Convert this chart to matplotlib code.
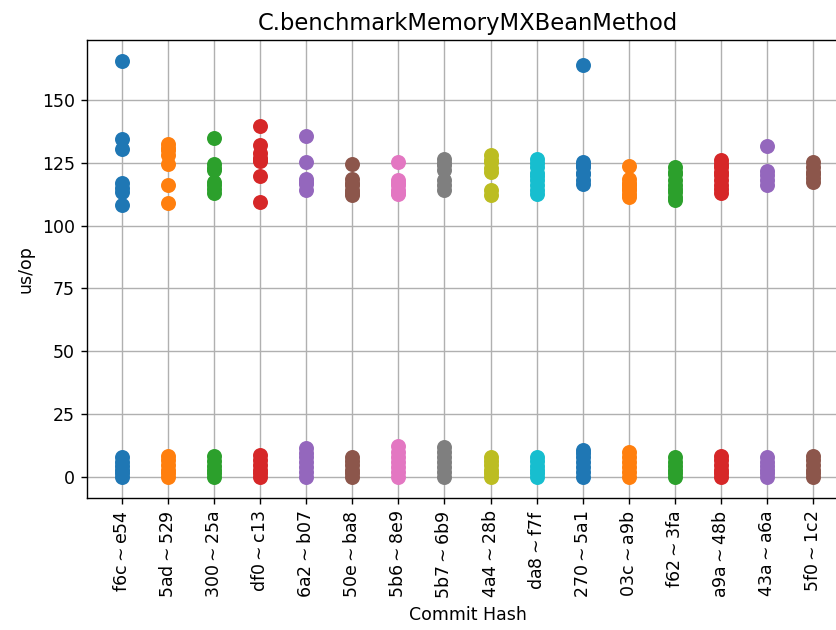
import matplotlib
matplotlib.use("Agg")
import matplotlib.pyplot as plt

commits = ["f6c~e54", "5ad~529", "300~25a", "df0~c13", "6a2~b07", "50e~ba8",
           "5b6~8e9", "5b7~6b9", "4a4~28b", "da8~f7f", "270~5a1", "03c~a9b",
           "f62~3fa", "a9a~48b", "43a~a6a", "5f0~1c2"]

high_values = [
    [165.5, 134.5, 130.5, 117.0, 115.0, 113.5, 108.2],
    [132.5, 131.0, 130.0, 128.0, 124.5, 116.0, 109.0],
    [135.0, 124.5, 123.0, 122.0, 117.3, 116.0, 114.5, 113.0],
    [139.4, 132.0, 129.0, 127.0, 126.0, 125.5, 119.6, 109.3],
    [135.6, 125.2, 118.6, 117.5, 116.6, 114.0],
    [124.4, 118.6, 117.0, 116.0, 114.0, 113.0, 112.2],
    [125.2, 118.0, 117.0, 116.0, 114.0, 113.0, 112.6],
    [126.5, 125.0, 124.0, 122.0, 118.0, 116.0, 114.0],
    [127.9, 126.0, 125.2, 123.0, 121.2, 114.0, 112.0],
    [126.5, 125.0, 123.2, 121.0, 119.9, 118.0, 116.0, 114.0, 112.6],
    [164.0, 125.2, 124.0, 123.2, 121.0, 120.6, 118.0, 116.6],
    [123.6, 118.6, 117.0, 116.0, 115.0, 114.0, 112.5, 111.3],
    [123.2, 121.5, 120.6, 118.0, 116.0, 114.5, 113.3, 111.5, 110.0],
    [125.9, 124.5, 123.2, 121.5, 120.0, 118.0, 116.0, 114.5, 113.0],
    [131.8, 121.9, 120.0, 118.0, 116.0],
    [125.2, 123.2, 121.5, 120.6, 119.0, 117.3],
]

low_values = [
    [0.0, 1.5, 3.0, 4.5, 6.0, 8.0],
    [0.0, 1.5, 3.0, 5.0, 7.0, 8.5],
    [0.0, 1.5, 3.0, 4.5, 6.5, 8.5],
    [0.0, 1.5, 3.0, 5.0, 7.0, 8.8],
    [0.0, 2.0, 4.0, 6.0, 8.0, 9.5, 11.5],
    [0.0, 1.5, 3.0, 5.0, 6.5, 8.0],
    [0.0, 2.0, 4.0, 6.0, 8.0, 10.0, 12.5],
    [0.0, 2.0, 4.0, 6.0, 8.0, 10.0, 12.0],
    [0.0, 1.5, 3.0, 5.0, 6.5, 8.0],
    [0.0, 1.5, 3.0, 4.5, 6.5, 8.0],
    [0.0, 2.0, 4.0, 6.0, 8.0, 9.5, 11.0],
    [0.0, 2.0, 4.0, 6.0, 8.0, 10.0],
    [0.0, 1.5, 3.0, 4.5, 6.0, 8.0],
    [0.0, 1.5, 3.0, 5.0, 7.0, 8.5],
    [0.0, 1.5, 3.0, 4.5, 6.0, 8.0],
    [0.0, 1.5, 3.0, 5.0, 7.0, 8.5],
]

DPI = 125
fig = plt.figure(figsize=(836 / DPI, 630 / DPI), dpi=DPI)
ax = fig.add_axes([87 / 836, 132 / 630, 761 / 836, 458 / 630])

colors = plt.rcParams["axes.prop_cycle"].by_key()["color"]
for i, name in enumerate(commits):
    vals = high_values[i] + low_values[i]
    ax.scatter([i] * len(vals), vals, color=colors[i % len(colors)], s=58, zorder=3)

ax.set_xlim(-0.75, len(commits) - 0.25)
ax.set_xticks(range(len(commits)))
ax.set_xticklabels([c.replace("~", r"$\sim$") for c in commits], rotation=90)
ax.grid(True)
ax.set_axisbelow(True)
ax.set_title("C.benchmarkMemoryMXBeanMethod", fontsize=13)
ax.set_xlabel("Commit Hash")
ax.set_ylabel("us/op")

fig.savefig("out.png", dpi=DPI)
